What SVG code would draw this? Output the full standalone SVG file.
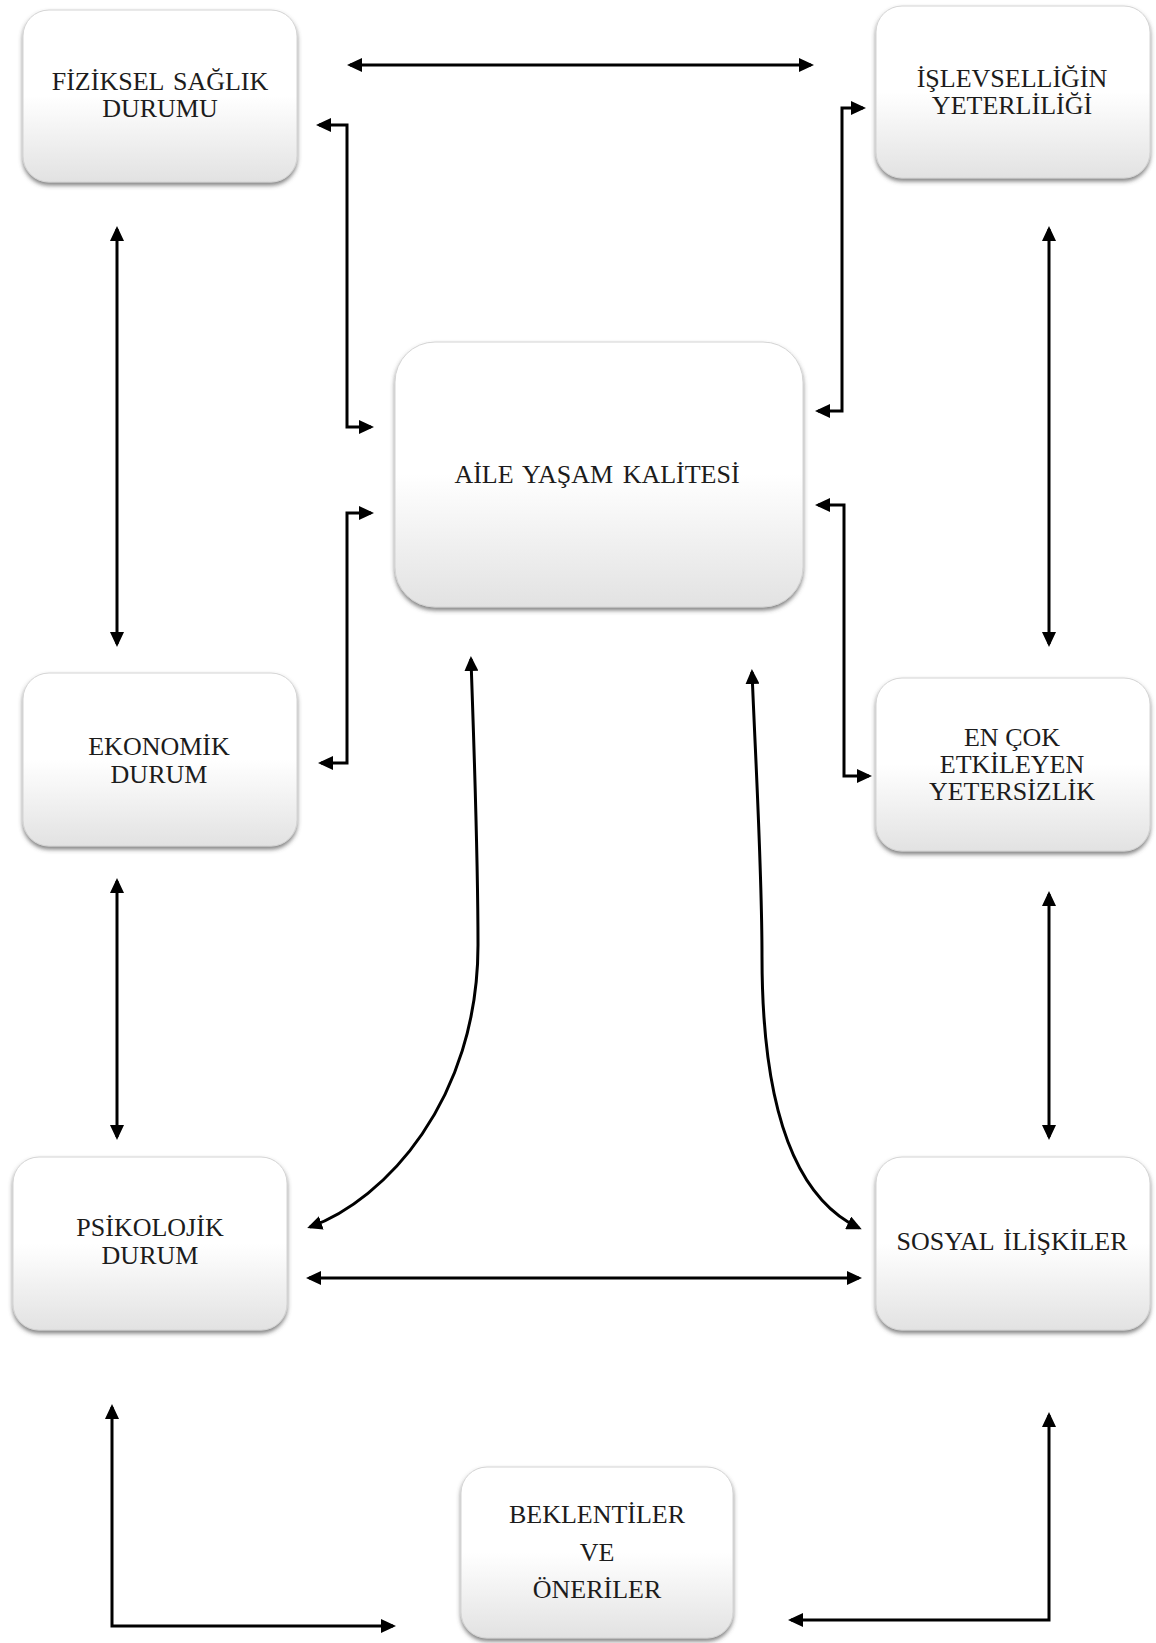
<svg xmlns="http://www.w3.org/2000/svg" width="1156" height="1643" viewBox="0 0 1156 1643">
  <defs>
    <linearGradient id="nodeFill" x1="0" y1="0" x2="0" y2="1">
      <stop offset="0" stop-color="#ffffff"/>
      <stop offset="0.5" stop-color="#ffffff"/>
      <stop offset="1" stop-color="#e2e2e2"/>
    </linearGradient>
    <filter id="nodeShadow" x="-10%" y="-10%" width="120%" height="125%">
      <feDropShadow dx="0" dy="3" stdDeviation="2" flood-color="#505050" flood-opacity="0.7"/>
    </filter>
    <marker id="head" viewBox="0 0 15 14" refX="12" refY="7" markerWidth="15" markerHeight="14" markerUnits="userSpaceOnUse" orient="auto-start-reverse">
      <path d="M0,0 L15,7 L0,14 z" fill="#000"/>
    </marker>
  </defs>
  <style>
    .box { fill: url(#nodeFill); stroke: #d4d4d4; stroke-width: 1; filter: url(#nodeShadow); }
    .label { font-family: "Liberation Serif", "Times New Roman", serif; font-size: 26px; fill: #1c1c1c; text-anchor: middle; }
    .wide { word-spacing: 3px; }
    .link { fill: none; stroke: #000; stroke-width: 3; }
    .both { marker-start: url(#head); marker-end: url(#head); }
  </style>

  <rect width="1156" height="1643" fill="#ffffff"/>

  <!-- nodes -->
  <g id="fiziksel-saglik">
    <rect class="box" x="23" y="10" width="274" height="172" rx="26"/>
    <text class="label wide" x="160" y="90">FİZİKSEL SAĞLIK</text>
    <text class="label" x="160" y="117">DURUMU</text>
  </g>

  <g id="islevsellik">
    <rect class="box" x="876" y="6" width="274" height="172" rx="26"/>
    <text class="label" x="1012" y="87">İŞLEVSELLİĞİN</text>
    <text class="label" x="1012" y="114">YETERLİLİĞİ</text>
  </g>

  <g id="aile-yasam-kalitesi">
    <rect class="box" x="395" y="342" width="408" height="265" rx="40"/>
    <text class="label wide" x="597" y="483">AİLE YAŞAM KALİTESİ</text>
  </g>

  <g id="ekonomik-durum">
    <rect class="box" x="23" y="673" width="274" height="173" rx="26"/>
    <text class="label" x="159" y="755">EKONOMİK</text>
    <text class="label" x="159" y="783">DURUM</text>
  </g>

  <g id="en-cok-etkileyen">
    <rect class="box" x="876" y="678" width="274" height="173" rx="26"/>
    <text class="label" x="1012" y="746">EN ÇOK</text>
    <text class="label" x="1012" y="773">ETKİLEYEN</text>
    <text class="label" x="1012" y="800">YETERSİZLİK</text>
  </g>

  <g id="psikolojik-durum">
    <rect class="box" x="13" y="1157" width="274" height="173" rx="26"/>
    <text class="label" x="150" y="1236">PSİKOLOJİK</text>
    <text class="label" x="150" y="1264">DURUM</text>
  </g>

  <g id="sosyal-iliskiler">
    <rect class="box" x="876" y="1157" width="274" height="173" rx="26"/>
    <text class="label wide" x="1012" y="1250">SOSYAL İLİŞKİLER</text>
  </g>

  <g id="beklentiler">
    <rect class="box" x="461" y="1467" width="272" height="171" rx="26"/>
    <text class="label" x="597" y="1523">BEKLENTİLER</text>
    <text class="label" x="597" y="1561">VE</text>
    <text class="label" x="597" y="1598">ÖNERİLER</text>
  </g>

  <!-- connectors -->
  <g id="connectors">
    <!-- top row -->
    <path class="link both" d="M350,65 L811,65"/>
    <!-- elbows into the central node -->
    <path class="link both" d="M319,125 L347,125 L347,427 L371,427"/>
    <path class="link both" d="M371,513 L347,513 L347,763 L321,763"/>
    <path class="link both" d="M863,108 L842,108 L842,411 L818,411"/>
    <path class="link both" d="M818,505 L844,505 L844,776 L869,776"/>
    <!-- side columns -->
    <path class="link both" d="M117,229 L117,644"/>
    <path class="link both" d="M117,881 L117,1137"/>
    <path class="link both" d="M1049,229 L1049,644"/>
    <path class="link both" d="M1049,894 L1049,1137"/>
    <!-- bottom row -->
    <path class="link both" d="M309,1278 L859,1278"/>
    <!-- curved links from the central node -->
    <path class="link both" d="M471,659 C474,750 478,850 478,945 C478,1100 385,1200 310,1227"/>
    <path class="link both" d="M752,672 C756,770 762,870 762,957 C762,1120 800,1200 859,1228"/>
    <!-- expectations feedback -->
    <path class="link both" d="M112,1407 L112,1626 L393,1626"/>
    <path class="link both" d="M1049,1415 L1049,1620 L791,1620"/>
  </g>
</svg>
